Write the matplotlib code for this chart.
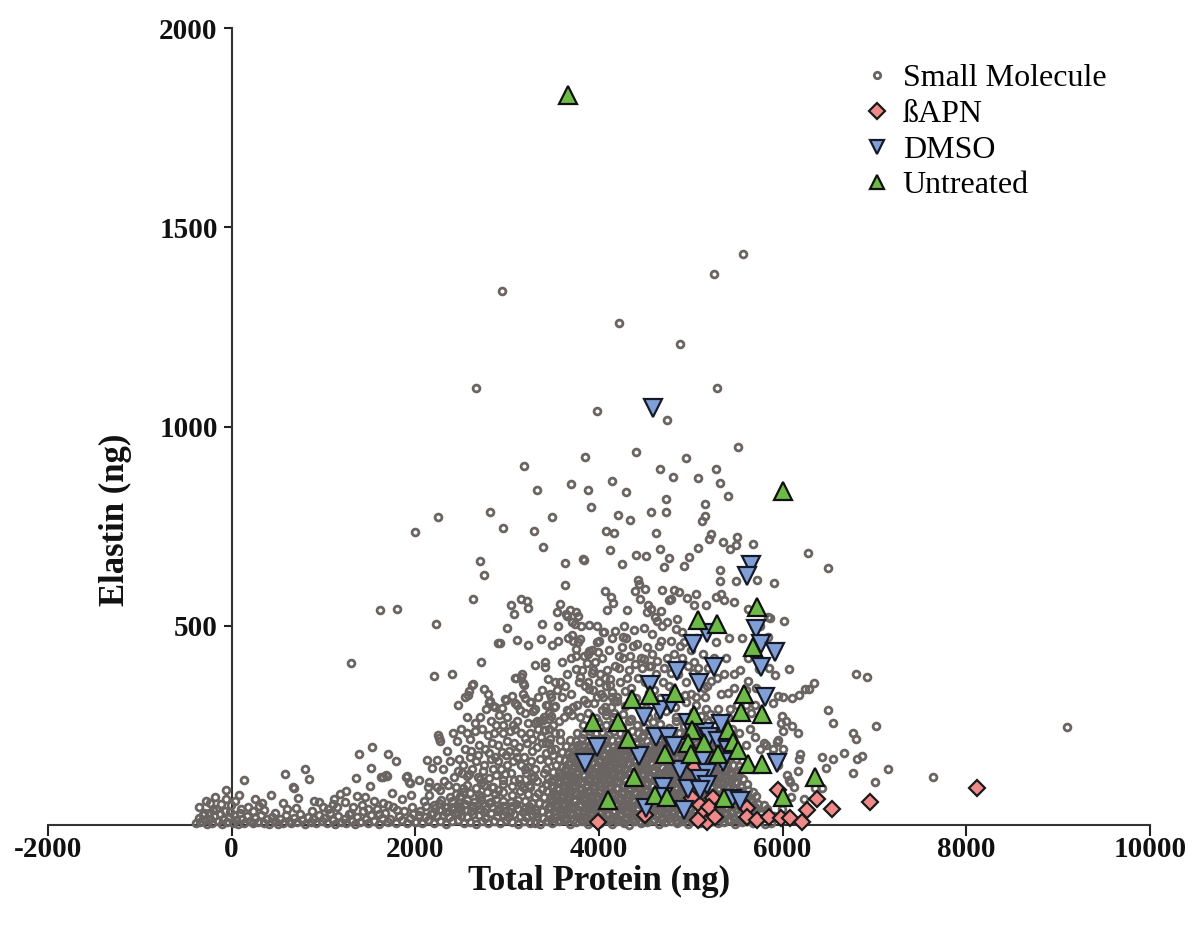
import matplotlib
matplotlib.use('Agg')
import matplotlib.pyplot as plt
import numpy as np

# ---- small molecule screen (total protein ng, elastin ng) ----
# sparse upper scatter
sm_upper = [
    (5570, 1434), (5254, 1382), (2943, 1339), (4221, 1259), (4883, 1206), (5286, 1096), (2660, 1096),
    (3975, 1038), (4741, 1016), (5515, 948), (4405, 935), (3846, 923), (4943, 920), (3181, 900),
    (4666, 893), (5276, 893), (4808, 873), (5080, 870), (4142, 863), (5319, 858), (3697, 855),
    (3324, 840), (3880, 840), (4294, 835), (5406, 825), (4730, 818), (5155, 805), (2812, 785),
    (3913, 798), (2245, 772), (3488, 772), (4207, 777), (4337, 765), (4565, 785), (4730, 785),
    (5155, 775), (5123, 762), (1995, 735), (2957, 745), (3291, 737), (4076, 737), (4164, 732),
    (4620, 732), (3389, 697), (4120, 690), (4666, 692), (5221, 730), (5199, 717), (5352, 710),
    (5504, 722), (5493, 702), (5428, 692), (5679, 705), (5080, 695), (6280, 682), (4405, 677),
    (4514, 675), (4765, 670), (4981, 672), (2703, 662), (2747, 627), (2627, 567), (1613, 539),
    (1798, 542), (2224, 504), (2899, 456), (3630, 657), (3826, 667), (3837, 665), (4251, 655),
    (4709, 647), (4927, 650), (5319, 640), (5493, 612), (5319, 612), (5722, 614), (6498, 645),
    (5908, 607), (5842, 522), (6017, 512), (5842, 471), (3630, 602), (4425, 614), (4436, 604),
    (4393, 587), (4502, 592), (4447, 567), (4535, 552), (4567, 542), (4687, 589), (4818, 589),
    (4872, 584), (4785, 567), (4763, 564), (4960, 569), (5058, 579), (5036, 552), (5167, 552),
    (5276, 572), (5330, 579), (5363, 564), (5472, 559), (5624, 542), (5755, 499), (5864, 519),
    (3041, 552), (3150, 567), (3215, 562), (3226, 544), (3074, 529), (3575, 554), (3542, 534),
    (3652, 524), (3706, 509), (3771, 524), (3891, 502), (4066, 587), (4131, 572), (4153, 557),
    (4088, 539), (3379, 504), (3553, 499), (2997, 494), (4044, 484), (3979, 459), (3990, 434),
    (2921, 456), (3107, 464), (3226, 451), (3368, 466), (3488, 451), (3553, 461), (3706, 477),
    (3771, 459), (3749, 441), (3880, 429), (3869, 406), (2714, 409), (3303, 401), (3411, 409),
    (1297, 406), (3684, 539), (3641, 529), (3750, 534), (3739, 504), (3793, 466), (3717, 461),
    (3750, 424), (3837, 424), (3891, 436), (4000, 461), (4055, 484), (4306, 539), (4273, 499),
    (4175, 487), (4262, 472), (4382, 489), (4491, 494), (4524, 534), (4611, 522), (4676, 537),
    (4633, 512), (4687, 499), (4578, 479), (4741, 509), (4851, 517), (4840, 492), (4785, 461),
    (4905, 484), (4927, 459), (4676, 461), (4524, 446), (4415, 454), (4251, 446), (4218, 424),
    (4338, 424), (4491, 416), (6071, 391), (6802, 379), (6921, 371), (5739, 391), (5848, 394),
    (3924, 381), (4011, 379), (4066, 369), (4120, 366), (4218, 394), (4306, 369), (4393, 404),
    (4469, 394), (4567, 399), (4633, 411), (4709, 394), (4785, 381), (4970, 399), (5025, 381),
    (5079, 394), (5188, 394), (5221, 361), (5145, 344), (5363, 379), (5472, 379), (5472, 344),
    (5406, 331), (5624, 361), (5712, 344), (5919, 376), (5951, 324), (6289, 341), (6104, 319),
]

# middle band, 150-400 ng elastin
sm_middle = [
    (2202, 374), (2398, 379), (3749, 391), (3793, 371), (3935, 389), (4088, 389), (4120, 352),
    (3096, 369), (3150, 371), (3183, 351), (3172, 356), (3444, 366), (3575, 359), (3630, 349),
    (2616, 351), (2583, 336), (2540, 321), (2747, 341), (2790, 329), (2801, 308), (2845, 298),
    (2976, 316), (3052, 324), (3085, 306), (3139, 288), (3194, 319), (3259, 308), (3281, 286),
    (3466, 329), (3510, 296), (3303, 256), (3357, 261), (3455, 266), (3477, 273), (3412, 238),
    (3673, 286), (3717, 296), (3870, 306), (3891, 341), (3935, 339), (3979, 321), (4044, 321),
    (4142, 334), (4197, 321), (4033, 288), (4077, 276), (4131, 296), (4164, 281), (2572, 326),
    (2627, 354), (2812, 311), (2867, 296), (2943, 293), (2987, 314), (3107, 301), (3172, 330),
    (3248, 308), (3085, 369), (3161, 380), (3412, 396), (3325, 261), (3390, 263), (3455, 281),
    (3521, 298), (3652, 288), (3706, 276), (3837, 314), (3793, 271), (6344, 356), (6246, 341),
    (6180, 326), (6006, 321), (5897, 306), (5995, 273), (6496, 288), (6551, 256), (7020, 248),
    (6104, 248), (6169, 231), (6006, 236), (6769, 231), (6802, 216), (9101, 246), (5940, 208),
    (5951, 213), (5799, 206), (2126, 163), (2235, 163), (2180, 143), (2256, 218), (2245, 225),
    (2267, 212), (2649, 236), (2790, 226), (2605, 186), (2801, 181), (2475, 166), (2820, 166),
    (2943, 183), (2987, 176), (3096, 183), (3107, 170), (3150, 150), (3259, 161), (3303, 140),
    (3194, 218), (3216, 206), (3063, 251), (3085, 241), (3401, 238), (3423, 206), (3477, 188),
    (3521, 191), (3575, 213), (2660, 160), (2750, 150), (2850, 140), (2900, 200), (3000, 210),
    (3130, 195), (3250, 230), (2300, 140), (2380, 160), (1384, 178), (1526, 196), (1515, 143),
    (1700, 178), (1788, 161), (1646, 120), (1690, 123), (1897, 120), (1929, 108), (2038, 113),
    (6191, 178), (6180, 166), (6431, 171), (6551, 166), (6671, 181), (6813, 166), (6867, 173),
    (6475, 143), (6769, 130), (7150, 140), (7641, 120), (7009, 108), (6235, 65), (6431, 93),
    (6355, 93), (6071, 113), (6080, 108), (5950, 150), (6000, 190), (6050, 125), (6120, 95),
    (6170, 135), (5980, 255), (6040, 262), (5900, 190), (6090, 70), (5990, 40),
    (2620, 140), (2680, 175), (2760, 190), (2830, 205), (2900, 160), (2960, 230), (3020, 185),
    (3060, 160), (3180, 170), (3230, 145), (3270, 185), (3330, 195), (3370, 220), (3420, 140),
    (3460, 240), (3500, 175), (3520, 230), (3400, 270), (3450, 300), (3340, 320), (3560, 260),
    (3600, 320), (3380, 340), (3540, 340), (2700, 270), (2880, 250), (2560, 270),
    (3420, 180), (3460, 205), (3500, 250), (3580, 230), (3620, 270), (3700, 330), (3780, 360),
    (3850, 350), (4000, 360), (4200, 310), (4350, 345), (4600, 340), (4800, 310), (5000, 330),
    (5150, 320), (5300, 290), (5400, 270), (5450, 240), (5520, 230), (5600, 200), (5650, 240),
    (5700, 220), (5750, 190), (5820, 200), (5880, 175), (5700, 300), (5600, 300),
    (2450, 210), (2500, 240), (2540, 190), (2600, 215), (2650, 255), (2690, 200), (2730, 240),
    (2770, 290), (2820, 260), (2860, 230), (2910, 275), (2950, 250), (3000, 270), (3030, 235),
    (3070, 205), (3110, 260), (3150, 230), (3190, 280), (3230, 255), (3270, 215), (3300, 290),
    (3340, 240), (3380, 205), (3420, 300), (3480, 320), (3520, 360), (3470, 215), (2930, 140),
    (2870, 170), (3190, 140), (3260, 120), (2680, 120), (2600, 170), (2520, 150), (2460, 135),
    (2350, 185), (2410, 230), (2310, 110), (2470, 300), (2560, 230),
]

# moderately filled region above the core, 250-500 ng elastin
sm_shell = [
    (3650, 380), (3700, 420), (3760, 300), (3820, 390), (3880, 360), (3920, 440), (3960, 410),
    (4030, 420), (4080, 350), (4110, 440), (4170, 400), (4230, 360), (4260, 420), (4330, 390),
    (4370, 450), (4420, 370), (4460, 420), (4500, 360), (4540, 400), (4580, 430), (4620, 380),
    (4650, 450), (4700, 360), (4740, 420), (4760, 350), (4820, 430), (4860, 380), (4900, 420),
    (4950, 360), (5000, 440), (5040, 410), (5100, 370), (5130, 430), (5180, 350), (5250, 420),
    (5290, 370), (5330, 330), (5380, 420), (5430, 290), (5500, 300), (5540, 390), (5600, 340),
    (5660, 280), (5620, 420), (5560, 470), (5420, 470), (5280, 460), (5060, 470), (4880, 450),
    (4300, 470), (4140, 470), (3980, 500), (3800, 500), (3660, 470), (3600, 410),
]

# baseline cluster below ~2000 ng protein
sm_left = [
    (-390, 5), (-360, 18), (-340, 8), (-310, 25), (-290, 12), (-270, 3), (-250, 30), (-230, 15),
    (-210, 6), (-190, 22), (-170, 40), (-150, 10), (-130, 28), (-110, 2), (-90, 15), (-70, 35),
    (-50, 8), (-30, 20), (-10, 50), (10, 5), (30, 26), (50, 12), (70, 3), (90, 30), (110, 16),
    (140, 6), (170, 22), (200, 10), (230, 4), (260, 18), (290, 8), (320, 25), (350, 5), (380, 14),
    (410, 3), (440, 20), (470, 9), (500, 2), (530, 16), (560, 6), (590, 24), (620, 10), (650, 4),
    (680, 18), (710, 7), (740, 28), (770, 12), (800, 3), (830, 20), (860, 8), (890, 14), (920, 4),
    (950, 26), (980, 10), (1010, 18), (1040, 5), (1070, 30), (1100, 12), (1130, 3), (1160, 22),
    (1190, 8), (1220, 15), (1250, 4), (1280, 28), (1310, 10), (1340, 2), (1370, 20), (1400, 8),
    (1430, 35), (1460, 14), (1490, 5), (1520, 25), (1550, 10), (1580, 40), (1610, 3), (1640, 18),
    (1670, 30), (1700, 8), (1730, 15), (1760, 45), (1790, 5), (1820, 22), (1850, 12), (1880, 35),
    (1910, 4), (1940, 18), (1970, 28), (2000, 8),
    (-350, 45), (-280, 60), (-230, 55), (-180, 70), (-120, 52), (-60, 65), (-65, 88), (40, 60),
    (131, 113), (80, 75), (180, 45), (250, 65), (300, 48), (425, 75), (578, 128), (665, 95),
    (676, 93), (796, 140), (839, 115), (560, 55), (720, 68), (900, 60), (948, 58), (1000, 45),
    (1101, 53), (1177, 78), (1232, 58), (1319, 45), (1352, 118), (1504, 98), (1624, 120),
    (1679, 125), (1908, 123), (1940, 105), (1250, 85), (1450, 70), (1550, 60), (1750, 80),
    (1850, 65), (1950, 75), (1420, 50), (1650, 55), (600, 40), (350, 38), (1050, 40),
    (100, 40), (230, 35), (470, 30), (700, 42), (880, 34), (1150, 45), (1300, 30), (1480, 40),
    (1600, 28), (1800, 38), (1960, 45), (-200, 38), (-20, 33), (330, 55), (1120, 65), (1360, 72),
    (1700, 50), (-300, 30),
]

# 2000-3300 ng protein, low elastin
sm_shoulder = [
    (2010, 8), (2075, 4), (2140, 12), (2205, 6), (2270, 10), (2335, 3), (2400, 9), (2465, 13),
    (2530, 5), (2595, 8), (2660, 2), (2725, 11), (2790, 6), (2855, 9), (2920, 4), (2985, 12),
    (3050, 7), (3115, 3), (3180, 10), (3245, 6),
    (2040, 24), (2105, 20), (2170, 28), (2235, 22), (2300, 26), (2365, 19), (2430, 29), (2495, 23),
    (2560, 21), (2625, 27), (2690, 24), (2755, 18), (2820, 30), (2885, 22), (2950, 25), (3015, 20),
    (3080, 28), (3145, 23), (3210, 19), (3270, 27),
    (2210, 42), (2280, 38), (2350, 46), (2420, 40), (2490, 44), (2560, 37), (2630, 47), (2700, 41),
    (2770, 39), (2840, 45), (2910, 42), (2980, 36), (3050, 48), (3120, 40), (3190, 43), (3260, 38),
    (2400, 60), (2480, 56), (2560, 64), (2640, 58), (2720, 62), (2800, 55), (2880, 65), (2960, 59),
    (3040, 57), (3120, 63), (3200, 60), (3270, 54),
    (2600, 80), (2690, 76), (2780, 84), (2870, 78), (2960, 82), (3050, 75), (3140, 85), (3230, 79),
    (2750, 100), (2850, 96), (2950, 104), (3050, 98), (3150, 102), (3250, 95),
    (2147, 108), (2136, 95), (2235, 95), (2267, 88), (2354, 100), (2442, 95), (2518, 93),
    (2507, 130), (2583, 128), (2562, 124), (2736, 135), (2878, 125), (3041, 130), (2100, 60),
    (2150, 75), (2200, 50), (2280, 62), (2320, 45), (2380, 70), (2460, 48), (2490, 72),
    (2700, 115), (2720, 105), (2840, 95), (2950, 112), (3000, 150), (3130, 115), (3210, 130),
    (3240, 100), (3320, 110), (3360, 165), (3380, 90), (3400, 130), (3450, 160), (3480, 110),
    (2560, 100), (2420, 120),
    (2050, 35), (2120, 48), (2190, 30), (2260, 55), (2330, 33), (2400, 44), (2470, 30), (2540, 52),
    (2610, 34), (2680, 50), (2750, 33), (2820, 57), (2890, 35), (2960, 48), (3030, 32), (3100, 52),
    (3170, 33), (3240, 48), (3310, 30), (2440, 78), (2520, 84), (2660, 92), (2720, 70), (2800, 118),
    (2900, 88), (2980, 128), (3080, 112), (3170, 95), (3290, 120), (3340, 80), (3430, 100),
    (3300, 70),
]

# dense core, 3300-5900 ng protein
sm_core = [
    (3300, 6), (3362, 2), (3431, 10), (3494, 4), (3560, 9), (3622, 13), (3690, 3), (3751, 7),
    (3818, 11), (3880, 2), (3947, 8), (4010, 5), (4072, 12), (4139, 3), (4201, 9), (4268, 6),
    (4330, 1), (4397, 10), (4460, 4), (4522, 8), (4589, 13), (4651, 2), (4718, 7), (4780, 11),
    (4847, 5), (4909, 9), (4972, 3), (5038, 12), (5100, 6), (5167, 2), (5229, 10), (5296, 4),
    (5358, 8), (5425, 13), (5487, 3), (5554, 7), (5616, 11), (5683, 5), (5745, 9), (5812, 2),
    (5874, 6),
    (3330, 22), (3395, 18), (3460, 26), (3527, 20), (3590, 24), (3655, 17), (3720, 27), (3784, 21),
    (3850, 19), (3913, 25), (3978, 22), (4041, 16), (4105, 28), (4170, 20), (4234, 23), (4299, 18),
    (4363, 26), (4428, 21), (4492, 17), (4556, 25), (4620, 22), (4685, 19), (4749, 27), (4813, 20),
    (4878, 24), (4942, 18), (5006, 26), (5070, 21), (5134, 17), (5198, 25), (5263, 22), (5327, 19),
    (5392, 27), (5456, 20), (5520, 24), (5585, 18), (5650, 26), (5714, 21), (5779, 17), (5843, 25),
    (5905, 22),
    (3310, 38), (3378, 34), (3444, 42), (3510, 36), (3573, 40), (3640, 33), (3705, 43), (3768, 37),
    (3833, 35), (3897, 41), (3962, 38), (4025, 32), (4090, 44), (4154, 36), (4218, 39), (4282, 34),
    (4347, 42), (4411, 37), (4475, 33), (4540, 41), (4604, 38), (4668, 35), (4733, 43), (4797, 36),
    (4861, 40), (4926, 34), (4990, 42), (5054, 37), (5118, 33), (5183, 41), (5247, 38), (5311, 35),
    (5376, 43), (5440, 36), (5504, 40), (5569, 34), (5633, 42), (5697, 37), (5762, 33), (5826, 41),
    (3345, 54), (3410, 50), (3477, 58), (3542, 52), (3606, 56), (3672, 49), (3737, 59), (3800, 53),
    (3866, 51), (3930, 57), (3994, 54), (4058, 48), (4122, 60), (4187, 52), (4251, 55), (4315, 50),
    (4380, 58), (4444, 53), (4508, 49), (4572, 57), (4637, 54), (4701, 51), (4765, 59), (4830, 52),
    (4894, 56), (4958, 50), (5022, 58), (5087, 53), (5151, 49), (5215, 57), (5279, 54), (5344, 51),
    (5408, 59), (5472, 52), (5537, 56), (5601, 50), (5665, 58), (5730, 53), (5794, 49),
    (3400, 70), (3466, 66), (3531, 74), (3596, 68), (3660, 72), (3726, 65), (3790, 75), (3854, 69),
    (3919, 67), (3983, 73), (4047, 70), (4111, 64), (4176, 76), (4240, 68), (4304, 71), (4369, 66),
    (4433, 74), (4497, 69), (4562, 65), (4626, 73), (4690, 70), (4754, 67), (4819, 75), (4883, 68),
    (4947, 72), (5012, 66), (5076, 74), (5140, 69), (5204, 65), (5269, 73), (5333, 70), (5397, 67),
    (5462, 75), (5526, 68), (5590, 72), (5655, 66), (5710, 74),
    (3430, 86), (3495, 82), (3560, 90), (3625, 84), (3689, 88), (3754, 81), (3818, 91), (3882, 85),
    (3947, 83), (4011, 89), (4075, 86), (4139, 80), (4204, 92), (4268, 84), (4332, 87), (4397, 82),
    (4461, 90), (4525, 85), (4590, 81), (4654, 89), (4718, 86), (4782, 83), (4847, 91), (4911, 84),
    (4975, 88), (5040, 82), (5104, 90), (5168, 85), (5232, 81), (5297, 89), (5361, 86), (5425, 83),
    (5490, 91), (5554, 84), (5618, 88), (5680, 82),
    (3420, 102), (3484, 98), (3549, 106), (3614, 100), (3678, 104), (3743, 97), (3807, 107),
    (3871, 101), (3936, 99), (4000, 105), (4064, 102), (4128, 96), (4193, 108), (4257, 100),
    (4321, 103), (4386, 98), (4450, 106), (4514, 101), (4579, 97), (4643, 105), (4707, 102),
    (4771, 99), (4836, 107), (4900, 100), (4964, 104), (5029, 98), (5093, 106), (5157, 101),
    (5221, 97), (5286, 105), (5350, 102), (5414, 99), (5479, 107), (5543, 100), (5607, 104),
    (3450, 118), (3515, 114), (3580, 122), (3645, 116), (3709, 120), (3774, 113), (3838, 123),
    (3902, 117), (3967, 115), (4031, 121), (4095, 118), (4159, 112), (4224, 124), (4288, 116),
    (4352, 119), (4417, 114), (4481, 122), (4545, 117), (4610, 113), (4674, 121), (4738, 118),
    (4802, 115), (4867, 123), (4931, 116), (4995, 120), (5060, 114), (5124, 122), (5188, 117),
    (5252, 113), (5317, 121), (5381, 118), (5445, 115), (5510, 123), (5572, 116),
    (3500, 134), (3566, 130), (3631, 138), (3696, 132), (3760, 136), (3825, 129), (3889, 139),
    (3953, 133), (4018, 131), (4082, 137), (4146, 134), (4210, 128), (4275, 140), (4339, 132),
    (4403, 135), (4468, 130), (4532, 138), (4596, 133), (4661, 129), (4725, 137), (4789, 134),
    (4853, 131), (4918, 139), (4982, 132), (5046, 136), (5111, 130), (5175, 138), (5239, 133),
    (5303, 129), (5368, 137), (5432, 134), (5496, 131), (5545, 139),
    (3530, 150), (3596, 146), (3661, 154), (3726, 148), (3790, 152), (3855, 145), (3919, 155),
    (3983, 149), (4048, 147), (4112, 153), (4176, 150), (4240, 144), (4305, 156), (4369, 148),
    (4433, 151), (4498, 146), (4562, 154), (4626, 149), (4691, 145), (4755, 153), (4819, 150),
    (4883, 147), (4948, 155), (5012, 148), (5076, 152), (5141, 146), (5205, 154), (5269, 149),
    (5333, 145), (5398, 153), (5462, 150), (5520, 147),
    (3560, 166), (3625, 162), (3690, 170), (3755, 164), (3819, 168), (3884, 161), (3948, 171),
    (4012, 165), (4077, 163), (4141, 169), (4205, 166), (4269, 160), (4334, 172), (4398, 164),
    (4462, 167), (4527, 162), (4591, 170), (4655, 165), (4720, 161), (4784, 169), (4848, 166),
    (4912, 163), (4977, 171), (5041, 164), (5105, 168), (5170, 162), (5234, 170), (5298, 165),
    (5362, 161), (5427, 169), (5490, 166),
    (3600, 182), (3665, 178), (3730, 186), (3795, 180), (3859, 184), (3924, 177), (3988, 187),
    (4052, 181), (4117, 179), (4181, 185), (4245, 182), (4309, 176), (4374, 188), (4438, 180),
    (4502, 183), (4567, 178), (4631, 186), (4695, 181), (4760, 177), (4824, 185), (4888, 182),
    (4952, 179), (5017, 187), (5081, 180), (5145, 184), (5210, 178), (5274, 186), (5338, 181),
    (5402, 177), (5460, 185),
    (3640, 198), (3705, 194), (3770, 202), (3835, 196), (3899, 200), (3964, 193), (4028, 203),
    (4092, 197), (4157, 195), (4221, 201), (4285, 198), (4349, 192), (4414, 204), (4478, 196),
    (4542, 199), (4607, 194), (4671, 202), (4735, 197), (4800, 193), (4864, 201), (4928, 198),
    (4992, 195), (5057, 203), (5121, 196), (5185, 200), (5250, 194), (5314, 202), (5378, 197),
    (5430, 193),
    (3690, 214), (3755, 210), (3820, 218), (3885, 212), (3949, 216), (4014, 209), (4078, 219),
    (4142, 213), (4207, 211), (4271, 217), (4335, 214), (4399, 208), (4464, 220), (4528, 212),
    (4592, 215), (4657, 210), (4721, 218), (4785, 213), (4850, 209), (4914, 217), (4978, 214),
    (5042, 211), (5107, 219), (5171, 212), (5235, 216), (5300, 210), (5364, 218),
    (3760, 232), (3830, 228), (3900, 236), (3965, 230), (4030, 234), (4095, 227), (4160, 237),
    (4225, 231), (4290, 229), (4355, 235), (4420, 232), (4485, 226), (4550, 238), (4615, 230),
    (4680, 233), (4745, 228), (4810, 236), (4875, 231), (4940, 227), (5005, 235), (5070, 232),
    (5135, 229), (5200, 237), (5265, 230), (5330, 234),
    (3822, 252), (3911, 244), (3986, 259), (4079, 250), (4152, 256), (4248, 245), (4327, 261),
    (4419, 251), (4496, 247), (4588, 258), (4667, 253), (4759, 243), (4836, 262), (4929, 249),
    (5013, 255), (5091, 246), (5186, 259), (5262, 251),
    (3884, 281), (3968, 268), (4075, 285), (4158, 272), (4266, 279), (4349, 266), (4457, 283),
    (4538, 270), (4647, 276), (4729, 287), (4838, 271), (4918, 264), (5027, 284), (5109, 273),
    (5214, 279),
    (3948, 305), (4066, 296), (4163, 311), (4287, 299), (4384, 308), (4507, 293), (4603, 313),
    (4724, 301), (4827, 295), (4946, 309), (5054, 300), (5163, 292),
    (4027, 330), (4144, 322), (4286, 336), (4404, 318), (4547, 331), (4663, 319), (4806, 338),
    (4934, 326), (5058, 321),
]

# second layer of the core, between the rows above
sm_core_fill = [
    (3480, 14), (3562, 12), (3641, 16), (3719, 13), (3802, 15), (3880, 12), (3961, 17), (4042, 14),
    (4120, 12), (4201, 16), (4283, 13), (4360, 15), (4441, 11), (4522, 16), (4600, 14), (4682, 12),
    (4763, 17), (4840, 13), (4921, 15), (5003, 12), (5080, 16), (5162, 14), (5241, 11), (5322, 16),
    (5400, 13), (5480, 15), (5560, 12), (5640, 16), (5720, 14),
    (3440, 30), (3521, 28), (3600, 32), (3683, 29), (3760, 31), (3842, 27), (3921, 33), (4000, 30),
    (4082, 28), (4160, 32), (4243, 29), (4321, 31), (4400, 27), (4481, 33), (4562, 30), (4640, 28),
    (4722, 32), (4801, 29), (4880, 31), (4963, 27), (5040, 33), (5122, 30), (5200, 28), (5281, 32),
    (5360, 29), (5442, 31), (5520, 27), (5600, 33), (5680, 30), (5760, 28),
    (3460, 46), (3543, 44), (3622, 48), (3701, 45), (3783, 47), (3862, 43), (3941, 49), (4022, 46),
    (4101, 44), (4183, 48), (4262, 45), (4341, 47), (4422, 43), (4503, 49), (4582, 46), (4661, 44),
    (4742, 48), (4821, 45), (4902, 47), (4981, 43), (5062, 49), (5141, 46), (5222, 44), (5301, 48),
    (5382, 45), (5461, 47), (5542, 43), (5621, 49), (5700, 46),
    (3500, 62), (3581, 60), (3662, 64), (3741, 61), (3822, 63), (3903, 59), (3982, 65), (4063, 62),
    (4142, 60), (4223, 64), (4302, 61), (4383, 63), (4462, 59), (4543, 65), (4622, 62), (4703, 60),
    (4782, 64), (4863, 61), (4942, 63), (5023, 59), (5102, 65), (5183, 62), (5262, 60), (5343, 64),
    (5422, 61), (5503, 63), (5582, 59), (5650, 64),
    (3520, 78), (3601, 76), (3682, 80), (3763, 77), (3842, 79), (3923, 75), (4002, 81), (4083, 78),
    (4164, 76), (4243, 80), (4324, 77), (4403, 79), (4484, 75), (4563, 81), (4644, 78), (4723, 76),
    (4804, 80), (4883, 77), (4964, 79), (5043, 75), (5124, 81), (5203, 78), (5284, 76), (5363, 80),
    (5444, 77), (5523, 79), (5600, 75),
    (3540, 94), (3622, 92), (3703, 96), (3782, 93), (3863, 95), (3942, 91), (4023, 97), (4104, 94),
    (4183, 92), (4264, 96), (4343, 93), (4424, 95), (4503, 91), (4584, 97), (4663, 94), (4744, 92),
    (4823, 96), (4904, 93), (4983, 95), (5064, 91), (5143, 97), (5224, 94), (5303, 92), (5384, 96),
    (5463, 93), (5550, 95),
    (3560, 110), (3641, 108), (3722, 112), (3801, 109), (3882, 111), (3961, 107), (4042, 113),
    (4123, 110), (4202, 108), (4283, 112), (4362, 109), (4443, 111), (4522, 107), (4603, 113),
    (4682, 110), (4763, 108), (4842, 112), (4923, 109), (5002, 111), (5083, 107), (5162, 113),
    (5243, 110), (5322, 108), (5403, 112), (5500, 109),
    (3600, 126), (3681, 124), (3762, 128), (3841, 125), (3922, 127), (4001, 123), (4082, 129),
    (4163, 126), (4242, 124), (4323, 128), (4402, 125), (4483, 127), (4562, 123), (4643, 129),
    (4722, 126), (4803, 124), (4882, 128), (4963, 125), (5042, 127), (5123, 123), (5202, 129),
    (5283, 126), (5362, 124), (5450, 128),
    (3640, 142), (3721, 140), (3802, 144), (3881, 141), (3962, 143), (4041, 139), (4122, 145),
    (4203, 142), (4282, 140), (4363, 144), (4442, 141), (4523, 143), (4602, 139), (4683, 145),
    (4762, 142), (4843, 140), (4922, 144), (5003, 141), (5082, 143), (5163, 139), (5242, 145),
    (5323, 142), (5400, 140),
    (3680, 158), (3761, 156), (3842, 160), (3921, 157), (4002, 159), (4081, 155), (4162, 161),
    (4243, 158), (4322, 156), (4403, 160), (4482, 157), (4563, 159), (4642, 155), (4723, 161),
    (4802, 158), (4883, 156), (4962, 160), (5043, 157), (5122, 159), (5203, 155), (5282, 161),
    (5350, 158),
    (3720, 174), (3801, 172), (3882, 176), (3961, 173), (4042, 175), (4121, 171), (4202, 177),
    (4283, 174), (4362, 172), (4443, 176), (4522, 173), (4603, 175), (4682, 171), (4763, 177),
    (4842, 174), (4923, 172), (5002, 176), (5083, 173), (5162, 175), (5243, 171), (5300, 177),
    (3780, 190), (3861, 188), (3942, 192), (4021, 189), (4102, 191), (4181, 187), (4262, 193),
    (4343, 190), (4422, 188), (4503, 192), (4582, 189), (4663, 191), (4742, 187), (4823, 193),
    (4902, 190), (4983, 188), (5062, 192), (5143, 189), (5250, 191),
]

# control groups
apn_x = [3990, 4502, 5047, 5014, 5101, 5145, 5178, 5079, 5243, 5199, 5265, 5614, 5614, 5722,
         5853, 5951, 5984, 6082, 6213, 6267, 6376, 6540, 6954, 8120]
apn_y = [8, 25, 145, 68, 50, 30, 8, 13, 68, 45, 20, 43, 20, 13,
         20, 88, 18, 18, 8, 38, 65, 40, 58, 93]

dmso_x = [4588, 5657, 5614, 5712, 5766, 5919, 5178, 5025, 5254, 4851, 5766, 5090, 4556, 5810,
          4665, 4785, 4491, 4970, 5330, 5156, 5199, 4622, 4752, 4818, 5297, 5406, 3979, 4436,
          5134, 5352, 3848, 5941, 4883, 5178, 5101, 5178, 4698, 4698, 4970, 5101, 5450, 5537,
          4927, 4513]
dmso_y = [1046, 652, 624, 492, 454, 434, 482, 454, 396, 386, 396, 356, 351, 321,
          288, 303, 271, 256, 253, 233, 221, 221, 221, 198, 211, 188, 196, 173,
          166, 158, 155, 155, 138, 130, 115, 100, 95, 70, 90, 88, 65, 60,
          38, 43]

untreated_x = [3666, 6005, 5722, 5079, 5286, 5679, 4360, 4556, 4829, 5581, 5548, 5777, 3935,
               4207, 5036, 5014, 5406, 4316, 4970, 5145, 5461, 5515, 4720, 5003, 5297, 5624,
               5777, 4382, 6355, 4611, 4098, 5363, 6006, 4741]
untreated_y = [1831, 838, 547, 514, 504, 446, 316, 326, 331, 329, 283, 278, 258,
               258, 276, 238, 238, 216, 206, 206, 208, 188, 178, 178, 178, 153,
               153, 120, 120, 75, 63, 68, 70, 70]

x_ticks = [-2000, 0, 2000, 4000, 6000, 8000, 10000]
y_ticks = [500, 1000, 1500, 2000]

plt.rcParams['font.family'] = ['Liberation Serif', 'DejaVu Serif']
plt.rcParams['axes.unicode_minus'] = False

sm = np.array(sm_left + sm_shoulder + sm_core + sm_core_fill + sm_middle + sm_shell + sm_upper,
              dtype=float)

fig = plt.figure(figsize=(11.93, 9.25), dpi=100)
ax = fig.add_axes([0.0402, 0.1081, 0.9237, 0.8616])

ax.plot(sm[:, 0], sm[:, 1], 'o', ms=4.9, mfc='none', mec='#6a6562', mew=2.0,
        clip_on=False, zorder=3, label='Small Molecule')
ax.plot(apn_x, apn_y, 'D', ms=8.5, mfc='#f08a8a', mec='#1a1a1a', mew=1.6,
        clip_on=False, zorder=4, label='ßAPN')
ax.plot(dmso_x, dmso_y, 'v', ms=12.5, mfc='#7f9fd6', mec='#161a28', mew=1.6,
        clip_on=False, zorder=5, label='DMSO')
ax.plot(untreated_x, untreated_y, '^', ms=12.5, mfc='#6dbb46', mec='#111111', mew=1.6,
        clip_on=False, zorder=6, label='Untreated')

ax.set_xlim(-2000, 10000)
ax.set_ylim(0, 2000)
ax.set_xticks(x_ticks)
ax.set_yticks(y_ticks)

ax.spines['left'].set_position(('data', 0))
ax.spines['top'].set_visible(False)
ax.spines['right'].set_visible(False)
for side in ('left', 'bottom'):
    ax.spines[side].set_linewidth(1.5)
    ax.spines[side].set_color('#333333')

ax.tick_params(axis='x', direction='out', length=8, width=1.5, pad=0,
               labelsize=21, colors='#222222')
ax.tick_params(axis='y', direction='out', length=6, width=1.5, pad=4,
               labelsize=21, colors='#222222')
for lbl in ax.get_xticklabels() + ax.get_yticklabels():
    lbl.set_fontweight('bold')
    lbl.set_color('#111111')

ax.set_xlabel('Total Protein (ng)', fontsize=25, fontweight='bold', color='#111111')
ax.set_ylabel('Elastin (ng)', fontsize=25, fontweight='bold', color='#111111')
ax.xaxis.set_label_coords(0.5, -0.05)
ax.xaxis.label.set_va('top')
ax.yaxis.set_label_coords(0.076, 0.383)

leg = ax.legend(loc='upper left', bbox_to_anchor=(0.722, 0.931),
                bbox_transform=fig.transFigure, frameon=False, fontsize=23,
                handlelength=1.0, handletextpad=0.3, labelspacing=0.2,
                borderpad=0, borderaxespad=0)
for h, ms in zip(leg.legend_handles, [4.6, 8, 10, 10]):
    h.set_markersize(ms)

fig.savefig('out.png', dpi=100)
